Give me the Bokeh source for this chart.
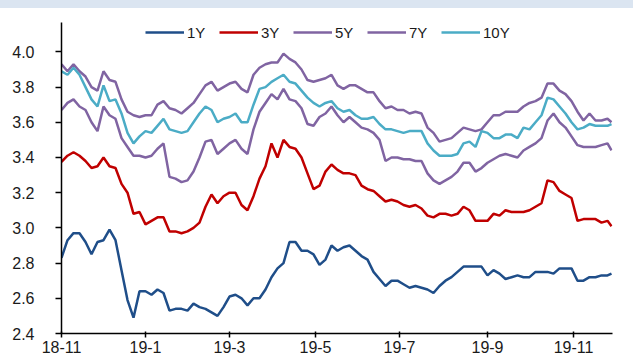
from bokeh.plotting import figure
from bokeh.models import Range1d, FixedTicker, PrintfTickFormatter, Legend, LegendItem, Div
from bokeh.layouts import column
from bokeh.embed import file_html
from bokeh.resources import INLINE

# trading-day index of each sample (every 3 days, last point at day 275)
days = list(range(0, 274, 3)) + [275]

y1 = [2.83, 2.93, 2.97, 2.97, 2.92, 2.85, 2.92, 2.93, 2.99, 2.93, 2.76, 2.59,
      2.49, 2.64, 2.64, 2.62, 2.65, 2.63, 2.53, 2.54, 2.54, 2.53, 2.57, 2.55,
      2.54, 2.52, 2.50, 2.55, 2.61, 2.62, 2.60, 2.56, 2.60, 2.60, 2.65, 2.72,
      2.77, 2.80, 2.92, 2.92, 2.87, 2.87, 2.85, 2.79, 2.82, 2.90, 2.87,
      2.89, 2.90, 2.87, 2.84, 2.82, 2.75, 2.71, 2.67, 2.70, 2.70, 2.68, 2.66,
      2.67, 2.66, 2.65, 2.63, 2.67, 2.70, 2.72, 2.75, 2.78, 2.78, 2.78,
      2.78, 2.73, 2.76, 2.74, 2.71, 2.72, 2.73, 2.72, 2.72, 2.75, 2.75, 2.75,
      2.74, 2.77, 2.77, 2.77, 2.70, 2.70, 2.72, 2.72, 2.73, 2.73, 2.74]

y3 = [3.375, 3.41, 3.43, 3.41, 3.38, 3.34, 3.35, 3.40, 3.35, 3.34, 3.25, 3.20,
      3.08, 3.09, 3.02, 3.04, 3.06, 3.06, 2.98, 2.98, 2.97, 2.98, 3.00, 3.03,
      3.12, 3.19, 3.14, 3.18, 3.20, 3.20, 3.13, 3.10, 3.18, 3.28, 3.35, 3.48,
      3.40, 3.50, 3.46, 3.45, 3.40, 3.31, 3.22, 3.24, 3.32, 3.36, 3.33,
      3.31, 3.31, 3.30, 3.24, 3.22, 3.21, 3.18, 3.15, 3.16, 3.15, 3.13, 3.12,
      3.13, 3.11, 3.07, 3.06, 3.08, 3.08, 3.07, 3.08, 3.12, 3.10, 3.04,
      3.04, 3.04, 3.08, 3.07, 3.10, 3.09, 3.09, 3.09, 3.10, 3.12, 3.14, 3.27,
      3.26, 3.21, 3.19, 3.17, 3.04, 3.05, 3.05, 3.05, 3.03, 3.04, 3.01]

y5 = [3.67, 3.71, 3.73, 3.69, 3.67, 3.60, 3.55, 3.69, 3.64, 3.62, 3.51, 3.46,
      3.41, 3.41, 3.40, 3.41, 3.45, 3.48, 3.29, 3.28, 3.26, 3.27, 3.32, 3.40,
      3.49, 3.50, 3.42, 3.45, 3.48, 3.50, 3.45, 3.42, 3.56, 3.66, 3.71, 3.76,
      3.73, 3.79, 3.73, 3.72, 3.68, 3.59, 3.58, 3.63, 3.65, 3.69, 3.64,
      3.60, 3.63, 3.60, 3.57, 3.56, 3.54, 3.50, 3.38, 3.40, 3.40, 3.39, 3.39,
      3.38, 3.38, 3.31, 3.27, 3.25, 3.27, 3.29, 3.32, 3.37, 3.37, 3.32,
      3.34, 3.37, 3.39, 3.41, 3.42, 3.41, 3.40, 3.44, 3.46, 3.48, 3.51, 3.61,
      3.65, 3.60, 3.57, 3.52, 3.47, 3.46, 3.46, 3.46, 3.47, 3.48, 3.44]

y7 = [3.93, 3.89, 3.93, 3.89, 3.86, 3.80, 3.78, 3.89, 3.84, 3.83, 3.73, 3.66,
      3.64, 3.63, 3.64, 3.64, 3.70, 3.72, 3.68, 3.67, 3.65, 3.68, 3.71, 3.76,
      3.81, 3.83, 3.78, 3.80, 3.82, 3.83, 3.79, 3.77, 3.87, 3.91, 3.93, 3.94,
      3.94, 3.99, 3.96, 3.94, 3.90, 3.84, 3.83, 3.84, 3.85, 3.87, 3.81,
      3.79, 3.81, 3.81, 3.79, 3.77, 3.77, 3.72, 3.68, 3.69, 3.67, 3.67, 3.65,
      3.66, 3.65, 3.57, 3.54, 3.49, 3.50, 3.51, 3.54, 3.57, 3.56, 3.55,
      3.56, 3.60, 3.64, 3.64, 3.66, 3.66, 3.66, 3.69, 3.71, 3.72, 3.74, 3.82,
      3.82, 3.78, 3.76, 3.72, 3.66, 3.61, 3.65, 3.61, 3.61, 3.62, 3.60]

y10 = [3.89, 3.87, 3.91, 3.87, 3.80, 3.73, 3.69, 3.81, 3.72, 3.73, 3.65, 3.54,
       3.48, 3.52, 3.55, 3.54, 3.58, 3.62, 3.56, 3.55, 3.54, 3.55, 3.60, 3.65,
       3.69, 3.67, 3.60, 3.62, 3.63, 3.65, 3.60, 3.60, 3.70, 3.79, 3.80, 3.83,
       3.85, 3.87, 3.83, 3.82, 3.78, 3.74, 3.71, 3.69, 3.71, 3.72, 3.68,
       3.66, 3.67, 3.64, 3.62, 3.62, 3.63, 3.59, 3.56, 3.56, 3.55, 3.54, 3.55,
       3.55, 3.55, 3.48, 3.44, 3.41, 3.41, 3.41, 3.42, 3.48, 3.49, 3.46,
       3.55, 3.54, 3.51, 3.51, 3.53, 3.53, 3.51, 3.57, 3.56, 3.60, 3.64, 3.74,
       3.73, 3.69, 3.65, 3.60, 3.56, 3.57, 3.59, 3.58, 3.58, 3.58, 3.59]

series_names = ["1Y", "3Y", "5Y", "7Y", "10Y"]
series_colors = ["#1F4E89", "#C00000", "#8064A2", "#8064A2", "#4BACC6"]

tick_days = [0, 42, 84, 127, 169, 213, 256]
tick_labels = ["18-11", "19-1", "19-3", "19-5", "19-7", "19-9", "19-11"]
y_ticks = [2.4, 2.6, 2.8, 3.0, 3.2, 3.4, 3.6, 3.8, 4.0]

FONT = "Liberation Sans"
TXT = "#1a1a1a"

p = figure(width=633, height=350, output_backend="svg", toolbar_location=None,
           x_range=Range1d(0, 275.5), y_range=Range1d(2.4, 4.167),
           min_border_left=61, min_border_right=21, min_border_top=14,
           min_border_bottom=25)
p.outline_line_color = None
p.xgrid.visible = False
p.ygrid.visible = False
p.background_fill_color = "white"
p.border_fill_color = "white"

renderers = []
for ys, c in zip([y1, y3, y5, y7, y10], series_colors):
    r = p.line(days, ys, line_color=c, line_width=2.5)
    renderers.append(r)

# axes
yax = p.yaxis[0]
yax.ticker = FixedTicker(ticks=y_ticks)
yax.formatter = PrintfTickFormatter(format="%.1f")
yax.major_tick_out = 6
yax.major_tick_in = 0
yax.minor_tick_line_color = None
yax.axis_line_width = 1.5
yax.major_tick_line_width = 1.5
yax.axis_line_color = "black"
yax.major_tick_line_color = "black"
yax.major_label_standoff = 21
yax.major_label_text_font = FONT
yax.major_label_text_font_size = "16px"
yax.major_label_text_color = TXT

xax = p.xaxis[0]
xax.ticker = FixedTicker(ticks=tick_days)
xax.major_label_overrides = {d: l for d, l in zip(tick_days, tick_labels)}
xax.major_tick_out = 4
xax.major_tick_in = 2
xax.minor_tick_line_color = None
xax.axis_line_width = 1.5
xax.major_tick_line_width = 1.5
xax.axis_line_color = "black"
xax.major_tick_line_color = "black"
xax.major_label_standoff = 3
xax.major_label_text_font = FONT
xax.major_label_text_font_size = "16px"
xax.major_label_text_color = TXT

legend = Legend(items=[LegendItem(label=n, renderers=[r]) for n, r in zip(series_names, renderers)],
                orientation="horizontal", location=(84, 291),
                glyph_width=39, glyph_height=20, label_standoff=3, spacing=12,
                padding=0, margin=0, border_line_alpha=0, background_fill_alpha=0,
                label_text_font=FONT, label_text_font_size="15px", label_text_color=TXT)
p.add_layout(legend, "center")

band = Div(text="", width=633, height=8, margin=0,
           styles={"background-color": "#dbe5f1"})
layout = column(band, p, spacing=0)

open("out.html", "w").write(file_html(layout, INLINE))
